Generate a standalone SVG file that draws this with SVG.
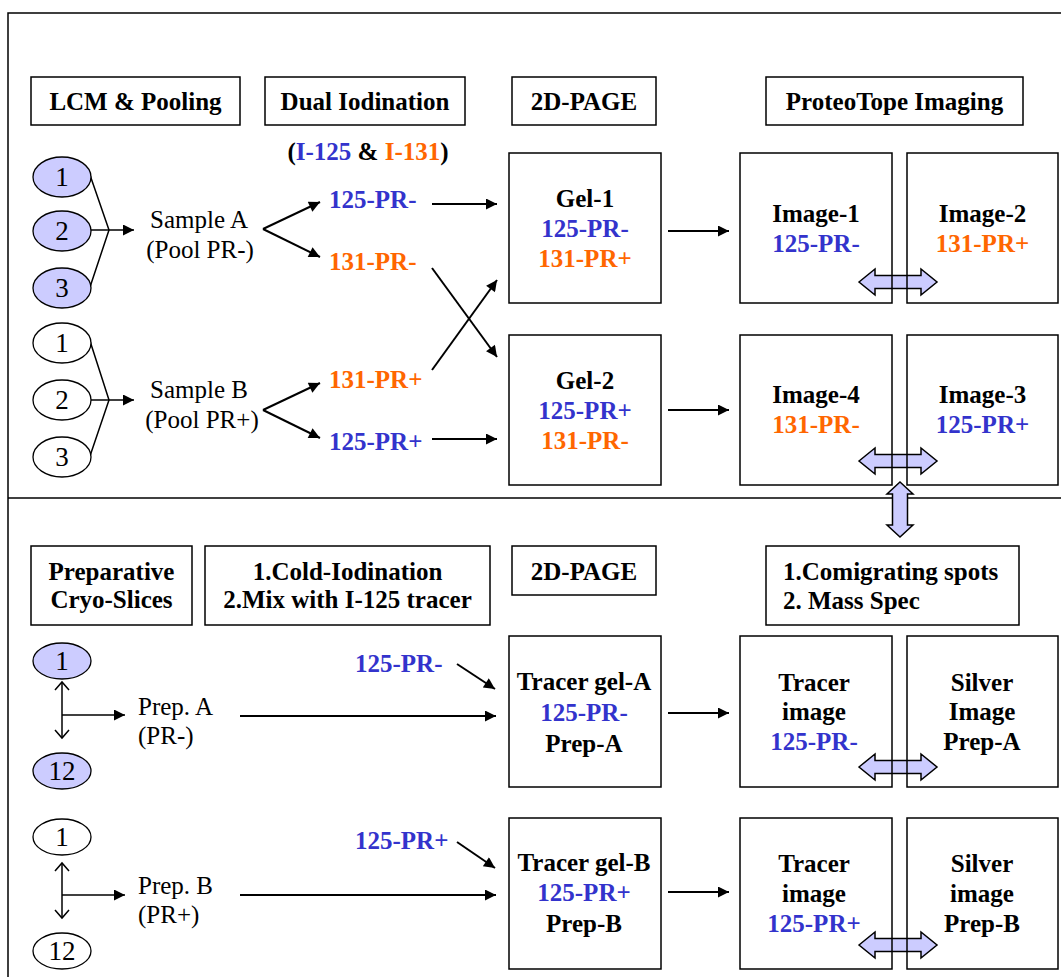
<svg xmlns="http://www.w3.org/2000/svg" width="1061" height="977" viewBox="0 0 1061 977">
<defs>
<style>
.t{font-family:"Liberation Serif","Times New Roman",serif;font-size:25px;fill:#000}
.n{font-size:27px}
.b{font-weight:bold}
.m{text-anchor:middle}
.bl{fill:#3333CC}
.or{fill:#FF6600}
.box{fill:none;stroke:#000;stroke-width:1.5}
.ell{stroke:#000;stroke-width:1.3}
.ln{fill:none;stroke:#000;stroke-width:2}
.thin{fill:none;stroke:#000;stroke-width:1.5}
.dbl{fill:#CCCCFF;stroke:#000;stroke-width:1.5;stroke-linejoin:miter}
.frame{fill:none;stroke:#000;stroke-width:1.5}
</style>
<marker id="ah" viewBox="0 0 10 10" refX="10" refY="5" markerWidth="14" markerHeight="11" markerUnits="userSpaceOnUse" orient="auto">
<path d="M0,0 L10,5 L0,10 z" fill="#000"/>
</marker>
</defs>
<rect width="1061" height="977" fill="#fff"/>
<g id="frame">
<path class="frame" d="M8,977 L8,13 L1061,13"/>
<path class="frame" d="M8,498 L1061,498"/>
</g>
<g id="connectors">
<polyline class="thin" points="90,175 109,230 90,287"/>
<line class="thin" x1="91" y1="230" x2="134" y2="230" marker-end="url(#ah)"/>
<polyline class="thin" points="90,341 109,400 90,456"/>
<line class="thin" x1="91" y1="400" x2="134" y2="400" marker-end="url(#ah)"/>
<line class="ln" x1="263" y1="229" x2="320" y2="202" marker-end="url(#ah)"/>
<line class="ln" x1="263" y1="229" x2="320" y2="257" marker-end="url(#ah)"/>
<line class="ln" x1="263" y1="410" x2="320" y2="383" marker-end="url(#ah)"/>
<line class="ln" x1="263" y1="410" x2="320" y2="438" marker-end="url(#ah)"/>
<line class="ln" x1="432" y1="204" x2="497" y2="204" marker-end="url(#ah)"/>
<line class="ln" x1="432" y1="439" x2="497" y2="439" marker-end="url(#ah)"/>
<line class="ln" x1="432" y1="268" x2="497" y2="357" marker-end="url(#ah)"/>
<line class="ln" x1="432" y1="370" x2="497" y2="280" marker-end="url(#ah)"/>
<line class="ln" x1="668" y1="231" x2="729" y2="231" marker-end="url(#ah)"/>
<line class="ln" x1="668" y1="410" x2="729" y2="410" marker-end="url(#ah)"/>
<path class="dbl" d="M859,282 L875,269 L875,275.5 L921,275.5 L921,269 L937,282 L921,295 L921,288.5 L875,288.5 L875,295 Z"/>
<path class="dbl" d="M859,461 L875,448 L875,454.5 L921,454.5 L921,448 L937,461 L921,474 L921,467.5 L875,467.5 L875,474 Z"/>
<line class="thin" x1="62" y1="682" x2="62" y2="738"/>
<polyline class="thin" points="55,690 62,682 69,690"/>
<polyline class="thin" points="55,730 62,738 69,730"/>
<line class="thin" x1="62" y1="715" x2="125" y2="715" marker-end="url(#ah)"/>
<line class="thin" x1="62" y1="863" x2="62" y2="918"/>
<polyline class="thin" points="55,871 62,863 69,871"/>
<polyline class="thin" points="55,910 62,918 69,910"/>
<line class="thin" x1="62" y1="895" x2="125" y2="895" marker-end="url(#ah)"/>
<line class="ln" x1="240" y1="716" x2="496" y2="716" marker-end="url(#ah)"/>
<line class="ln" x1="240" y1="895" x2="496" y2="895" marker-end="url(#ah)"/>
<line class="ln" x1="457" y1="664" x2="495" y2="689" marker-end="url(#ah)"/>
<line class="ln" x1="457" y1="842" x2="495" y2="868" marker-end="url(#ah)"/>
<line class="ln" x1="668" y1="713" x2="729" y2="713" marker-end="url(#ah)"/>
<line class="ln" x1="668" y1="892" x2="729" y2="892" marker-end="url(#ah)"/>
<path class="dbl" d="M859,767 L875,754 L875,760.5 L921,760.5 L921,754 L937,767 L921,780 L921,773.5 L875,773.5 L875,780 Z"/>
<path class="dbl" d="M859,945 L875,932 L875,938.5 L921,938.5 L921,932 L937,945 L921,958 L921,951.5 L875,951.5 L875,958 Z"/>
</g>
<g id="h-lcm"><rect class="box" x="31" y="77" width="209" height="48"/><text class="t b m" x="135.5" y="110">LCM &amp; Pooling</text></g>
<g id="h-dual"><rect class="box" x="265" y="77" width="200" height="48"/><text class="t b m" x="365" y="110">Dual Iodination</text></g>
<g id="h-page1"><rect class="box" x="512" y="77" width="144" height="48"/><text class="t b m" x="584" y="110">2D-PAGE</text></g>
<g id="h-proteo"><rect class="box" x="766" y="77" width="257" height="48"/><text class="t b m" x="894.5" y="110">ProteoTope Imaging</text></g>
<g id="isotopes"><text class="t b m" x="368" y="160">(<tspan class="bl">I-125</tspan> &amp; <tspan class="or">I-131</tspan>)</text></g>
<g id="a1"><ellipse class="ell" cx="62" cy="177" rx="29" ry="20" fill="#CCCCFF"/><text class="t n m" x="62" y="186">1</text></g>
<g id="a2"><ellipse class="ell" cx="62" cy="231" rx="29" ry="20" fill="#CCCCFF"/><text class="t n m" x="62" y="240">2</text></g>
<g id="a3"><ellipse class="ell" cx="62" cy="288" rx="29" ry="20" fill="#CCCCFF"/><text class="t n m" x="62" y="297">3</text></g>
<g id="b1"><ellipse class="ell" cx="62" cy="343" rx="29" ry="20" fill="#fff"/><text class="t n m" x="62" y="352">1</text></g>
<g id="b2"><ellipse class="ell" cx="62" cy="400" rx="29" ry="20" fill="#fff"/><text class="t n m" x="62" y="409">2</text></g>
<g id="b3"><ellipse class="ell" cx="62" cy="457" rx="29" ry="20" fill="#fff"/><text class="t n m" x="62" y="466">3</text></g>
<g id="sampleA"><text class="t m" x="199" y="228">Sample A</text><text class="t m" x="200" y="258">(Pool PR-)</text></g>
<g id="sampleB"><text class="t m" x="199" y="398">Sample B</text><text class="t m" x="202" y="428">(Pool PR+)</text></g>
<g id="l125m"><text class="t b bl" x="329" y="208">125-PR-</text></g>
<g id="l131m"><text class="t b or" x="329" y="270">131-PR-</text></g>
<g id="l131p"><text class="t b or" x="329" y="388">131-PR+</text></g>
<g id="l125p"><text class="t b bl" x="329" y="450">125-PR+</text></g>
<g id="gel1"><rect class="box" x="509" y="153" width="152" height="150"/><text class="t b m" x="585" y="207">Gel-1</text><text class="t b m bl" x="585" y="237">125-PR-</text><text class="t b m or" x="585" y="267">131-PR+</text></g>
<g id="gel2"><rect class="box" x="509" y="335" width="152" height="150"/><text class="t b m" x="585" y="389">Gel-2</text><text class="t b m bl" x="585" y="419">125-PR+</text><text class="t b m or" x="585" y="449">131-PR-</text></g>
<g id="img1"><rect class="box" x="740" y="153" width="152" height="150"/><text class="t b m" x="816" y="222">Image-1</text><text class="t b m bl" x="816" y="252">125-PR-</text></g>
<g id="img2"><rect class="box" x="907" y="153" width="151" height="150"/><text class="t b m" x="982.5" y="222">Image-2</text><text class="t b m or" x="982.5" y="252">131-PR+</text></g>
<g id="img4"><rect class="box" x="740" y="335" width="152" height="150"/><text class="t b m" x="816" y="403">Image-4</text><text class="t b m or" x="816" y="433">131-PR-</text></g>
<g id="img3"><rect class="box" x="907" y="335" width="151" height="150"/><text class="t b m" x="982.5" y="403">Image-3</text><text class="t b m bl" x="982.5" y="433">125-PR+</text></g>
<g id="h-prep"><rect class="box" x="31" y="546" width="161" height="79"/><text class="t b m" x="111.5" y="580">Preparative</text><text class="t b m" x="111.5" y="608">Cryo-Slices</text></g>
<g id="h-cold"><rect class="box" x="205" y="546" width="285" height="79"/><text class="t b m" x="347.5" y="580">1.Cold-Iodination</text><text class="t b m" x="347.5" y="608">2.Mix with I-125 tracer</text></g>
<g id="h-page2"><rect class="box" x="512" y="546" width="144" height="49"/><text class="t b m" x="584" y="580">2D-PAGE</text></g>
<g id="h-comig"><rect class="box" x="766" y="546" width="253" height="79"/><text class="t b" x="783" y="580">1.Comigrating spots</text><text class="t b" x="783" y="609">2. Mass Spec</text></g>
<g id="pa1"><ellipse class="ell" cx="62" cy="661" rx="29" ry="18" fill="#CCCCFF"/><text class="t n m" x="62" y="670">1</text></g>
<g id="pa12"><ellipse class="ell" cx="62" cy="771" rx="29" ry="18" fill="#CCCCFF"/><text class="t n m" x="62" y="780">12</text></g>
<g id="pb1"><ellipse class="ell" cx="62" cy="837" rx="29" ry="18" fill="#fff"/><text class="t n m" x="62" y="846">1</text></g>
<g id="pb12"><ellipse class="ell" cx="62" cy="951" rx="29" ry="18" fill="#fff"/><text class="t n m" x="62" y="960">12</text></g>
<g id="prepA"><text class="t" x="138" y="715">Prep. A</text><text class="t" x="138" y="744">(PR-)</text></g>
<g id="prepB"><text class="t" x="138" y="894">Prep. B</text><text class="t" x="138" y="923">(PR+)</text></g>
<g id="tr125m"><text class="t b bl" x="355" y="672">125-PR-</text></g>
<g id="tr125p"><text class="t b bl" x="355" y="849">125-PR+</text></g>
<g id="tgelA"><rect class="box" x="509" y="636" width="152" height="151"/><text class="t b m" x="584" y="690">Tracer gel-A</text><text class="t b m bl" x="584" y="721">125-PR-</text><text class="t b m" x="584" y="752">Prep-A</text></g>
<g id="tgelB"><rect class="box" x="509" y="818" width="152" height="151"/><text class="t b m" x="584" y="871">Tracer gel-B</text><text class="t b m bl" x="584" y="901">125-PR+</text><text class="t b m" x="584" y="932">Prep-B</text></g>
<g id="timgA"><rect class="box" x="740" y="636" width="152" height="151"/><text class="t b m" x="814" y="691">Tracer</text><text class="t b m" x="814" y="720">image</text><text class="t b m bl" x="814" y="750">125-PR-</text></g>
<g id="silA"><rect class="box" x="907" y="636" width="151" height="151"/><text class="t b m" x="982" y="691">Silver</text><text class="t b m" x="982" y="720">Image</text><text class="t b m" x="982" y="750">Prep-A</text></g>
<g id="timgB"><rect class="box" x="740" y="818" width="152" height="151"/><text class="t b m" x="814" y="872">Tracer</text><text class="t b m" x="814" y="902">image</text><text class="t b m bl" x="814" y="932">125-PR+</text></g>
<g id="silB"><rect class="box" x="907" y="818" width="151" height="151"/><text class="t b m" x="982" y="872">Silver</text><text class="t b m" x="982" y="902">image</text><text class="t b m" x="982" y="932">Prep-B</text></g>
<g id="vlink"><path class="dbl" d="M900,482 L913,494 L907.5,494 L907.5,525 L913,525 L900,537 L887,525 L892.5,525 L892.5,494 L887,494 Z"/></g>
</svg>
